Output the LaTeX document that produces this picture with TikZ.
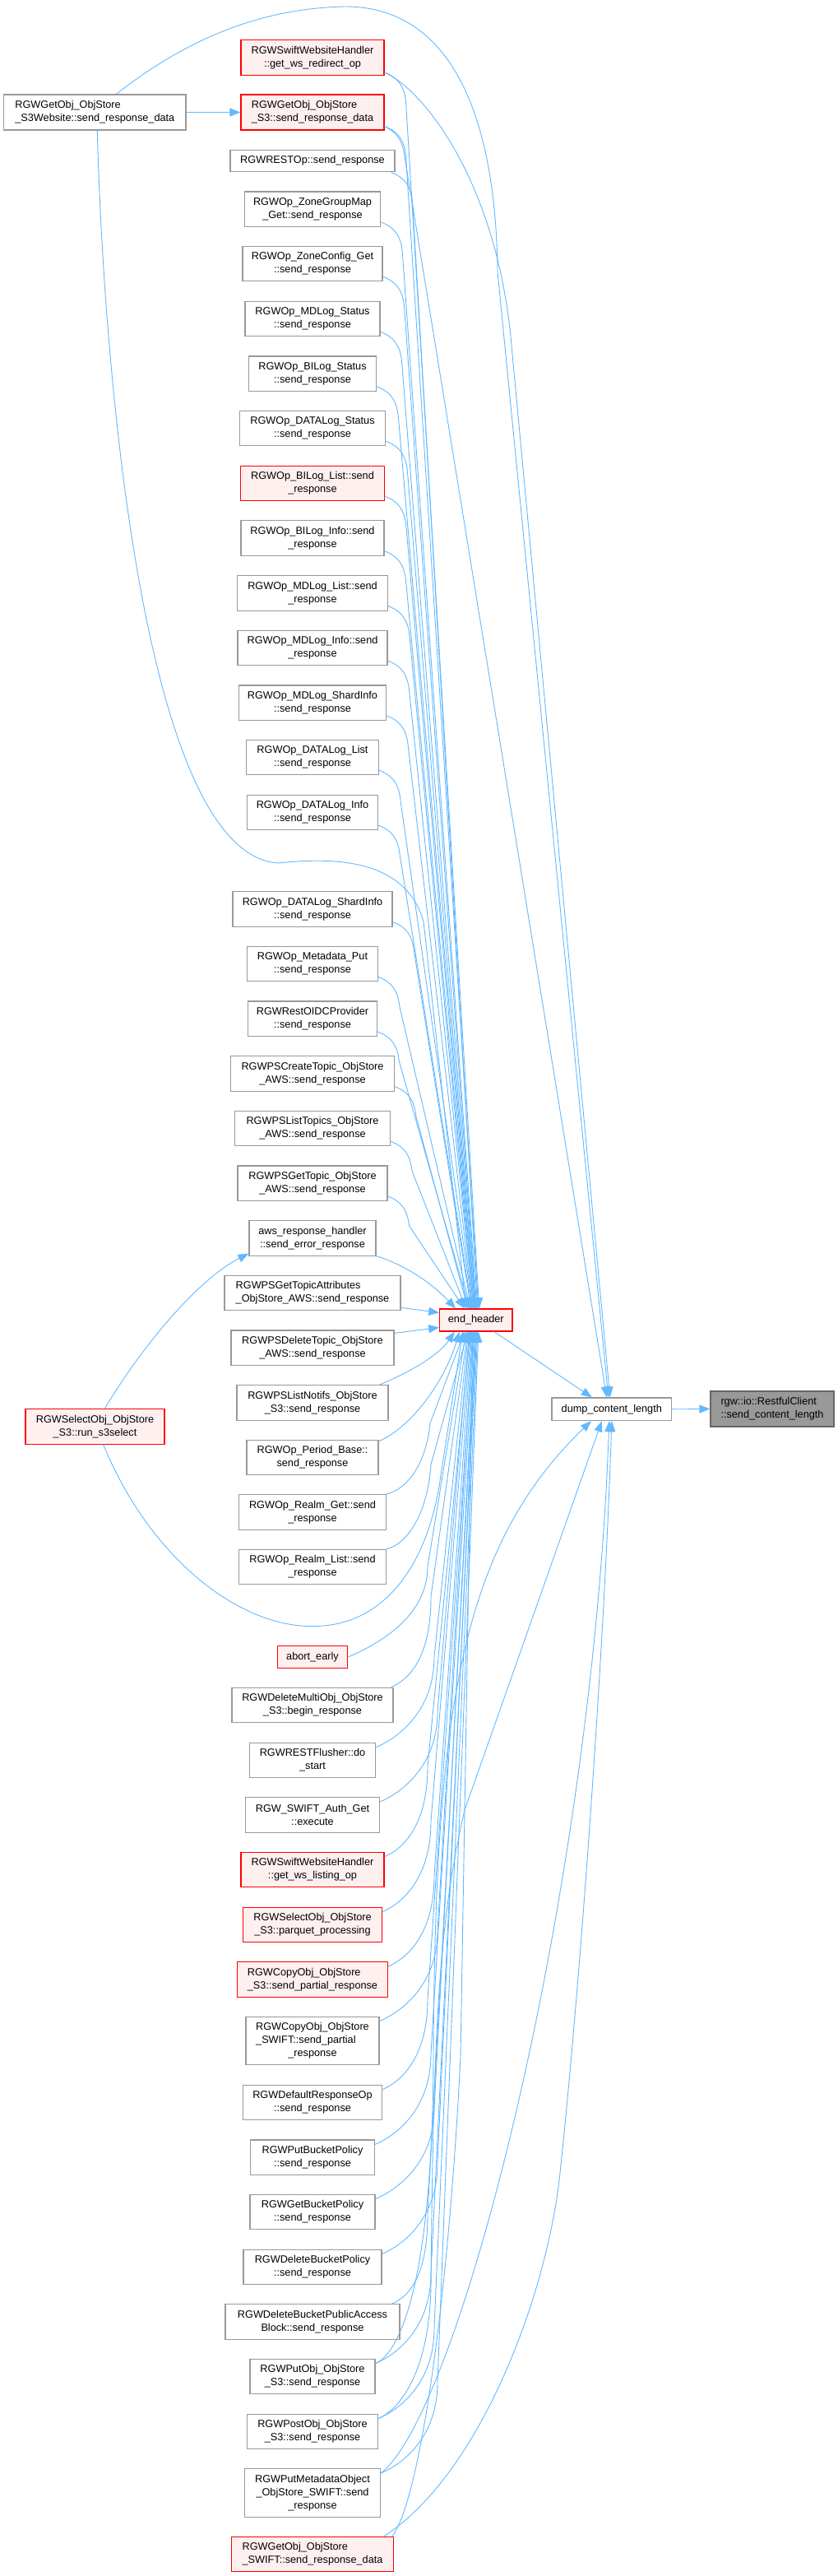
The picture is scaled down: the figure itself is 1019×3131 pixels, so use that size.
\documentclass[tikz,border=0pt]{standalone}
\usepackage{fontspec}
\setmainfont{Liberation Sans}
\usetikzlibrary{arrows.meta,calc}
\definecolor{eblue}{HTML}{63B8FF}
\definecolor{ngray}{HTML}{999999}
\definecolor{rfill}{HTML}{FFF0F0}
\definecolor{rbord}{HTML}{FF0000}
\definecolor{mgray}{HTML}{999999}
\definecolor{dgray}{HTML}{666666}
\newcommand\nfont{\fontsize{12.7pt}{16pt}\selectfont}
\newcommand\lft[2]{\setbox0\hbox{#1}\makebox[\wd0][l]{#2}}
\newcommand\eT[2]{%
  \path #1 coordinate (s);
  \draw[edge] (s) .. controls ($(s)+(16,6)$) and ($(s)+(24,16)$) .. ($(s)+(26,36)$) -- ([xshift=#2]endh.north);
}
\newcommand\eB[3]{%
  \path #1 coordinate (s) ++(0,-45) coordinate (s1) ++(0,-65) coordinate (s2);
  \draw[edge] (s) .. controls ($(s)+(28,-12)$) and (s1 -| #3) .. (s2 -| #3) -- ([xshift=#2]endh.south);
}
\tikzset{
  nb/.style={draw=ngray, fill=white, line width=1.1pt, inner sep=0pt, font=\nfont, align=center},
  nr/.style={nb, draw=rbord, fill=rfill},
  nroot/.style={nb, draw=dgray, fill=mgray},
  edge/.style={draw=eblue, line width=0.9pt, -{Triangle[length=13pt,width=10pt]}},
}
\begin{document}
\begin{tikzpicture}[x=1pt,y=-1pt]
\useasboundingbox (0,0) rectangle (1019,3131);
\coordinate (bxa) at (520,0);
\coordinate (bxb) at (524,0);
\coordinate (bxc) at (528,0);
\coordinate (bxd) at (532,0);
% nodes
\node[nb,align=left,minimum width=221.4pt,minimum height=43pt] (s3web) at (115.3,136.5) {RGWGetObj\_ObjStore\\\_S3Website::send\_response\_data};
\node[nr,minimum width=174pt,minimum height=42.5pt] (wsred) at (380,70.2) {RGWSwiftWebsiteHandler\\::get\_ws\_redirect\_op};
\node[nr,align=left,minimum width=174pt,minimum height=43pt] (s3srd) at (380,136.5) {RGWGetObj\_ObjStore\\\_S3::send\_response\_data};
\node[nb,minimum width=200pt,minimum height=26.5pt] (restop) at (380,195.7) {RGWRESTOp::send\_response};
\node[nb,minimum width=165.5pt,minimum height=42.5pt] (zgm) at (380,254.2) {RGWOp\_ZoneGroupMap\\\_Get::send\_response};
\node[nb,minimum width=170pt,minimum height=42.5pt] (zcg) at (380,320.5) {RGWOp\_ZoneConfig\_Get\\::send\_response};
\node[nb,minimum width=164pt,minimum height=42.5pt] (mdst) at (380,387.5) {RGWOp\_MDLog\_Status\\::send\_response};
\node[nb,minimum width=155.5pt,minimum height=42.5pt] (blst) at (380,454.2) {RGWOp\_BILog\_Status\\::send\_response};
\node[nb,minimum width=177.6pt,minimum height=42.5pt] (dlst) at (380,520.5) {RGWOp\_DATALog\_Status\\::send\_response};
\node[nr,minimum width=174.5pt,minimum height=42.5pt] (bllist) at (380,587.3) {RGWOp\_BILog\_List::send\\\_response};
\node[nb,minimum width=174pt,minimum height=42.5pt] (blinfo) at (380,654) {RGWOp\_BILog\_Info::send\\\_response};
\node[nb,minimum width=182.8pt,minimum height=42.5pt] (mdlist) at (380,720.8) {RGWOp\_MDLog\_List::send\\\_response};
\node[nb,minimum width=182pt,minimum height=42.5pt] (mdinfo) at (380,787.3) {RGWOp\_MDLog\_Info::send\\\_response};
\node[nb,minimum width=179.3pt,minimum height=42.5pt] (mdshard) at (380,854.2) {RGWOp\_MDLog\_ShardInfo\\::send\_response};
\node[nb,minimum width=160.7pt,minimum height=42.5pt] (dllist) at (380,920.5) {RGWOp\_DATALog\_List\\::send\_response};
\node[nb,minimum width=159.3pt,minimum height=42.5pt] (dlinfo) at (380,987.3) {RGWOp\_DATALog\_Info\\::send\_response};
\node[nb,minimum width=194pt,minimum height=42.5pt] (dlshard) at (380,1104.8) {RGWOp\_DATALog\_ShardInfo\\::send\_response};
\node[nb,minimum width=158.6pt,minimum height=42.5pt] (mdput) at (380,1171.5) {RGWOp\_Metadata\_Put\\::send\_response};
\node[nb,minimum width=157.6pt,minimum height=42.5pt] (oidc) at (380,1238.2) {RGWRestOIDCProvider\\::send\_response};
\node[nb,minimum width=198.6pt,minimum height=42.5pt] (pscreate) at (380,1304.8) {RGWPSCreateTopic\_ObjStore\\\_AWS::send\_response};
\node[nb,minimum width=188.9pt,minimum height=42.5pt] (pslist) at (380,1371.5) {RGWPSListTopics\_ObjStore\\\_AWS::send\_response};
\node[nb,minimum width=182pt,minimum height=42.5pt] (psget) at (380,1438.2) {RGWPSGetTopic\_ObjStore\\\_AWS::send\_response};
\node[nb,minimum width=154pt,minimum height=42.5pt] (aws) at (380,1504.8) {aws\_response\_handler\\::send\_error\_response};
\node[nb,align=left,minimum width=214pt,minimum height=42.5pt] (psattr) at (380,1571.5) {RGWPSGetTopicAttributes\\\_ObjStore\_AWS::send\_response};
\node[nb,minimum width=198pt,minimum height=42.5pt] (psdel) at (380,1638.2) {RGWPSDeleteTopic\_ObjStore\\\_AWS::send\_response};
\node[nb,minimum width=184pt,minimum height=42.5pt] (psnotif) at (380,1704.8) {RGWPSListNotifs\_ObjStore\\\_S3::send\_response};
\node[nr,minimum width=169pt,minimum height=42.5pt] (s3sel) at (115.5,1733.8) {RGWSelectObj\_ObjStore\\\_S3::run\_s3select};
\node[nb,minimum width=160pt,minimum height=42.5pt] (period) at (380,1771.5) {RGWOp\_Period\_Base::\\send\_response};
\node[nb,minimum width=179pt,minimum height=42.5pt] (realmget) at (380,1837.8) {RGWOp\_Realm\_Get::send\\\_response};
\node[nb,minimum width=179pt,minimum height=42.5pt] (realmlist) at (380,1904.5) {RGWOp\_Realm\_List::send\\\_response};
\node[nr,minimum width=85.5pt,minimum height=26.5pt] (abort) at (380,2014) {abort\_early};
\node[nb,minimum width=196pt,minimum height=42.5pt] (delmulti) at (380,2072.5) {RGWDeleteMultiObj\_ObjStore\\\_S3::begin\_response};
\node[nb,minimum width=153.4pt,minimum height=42.5pt] (flusher) at (380,2139.5) {RGWRESTFlusher::do\\\_start};
\node[nb,minimum width=163.2pt,minimum height=42.5pt] (swauth) at (380,2205.8) {RGW\_SWIFT\_Auth\_Get\\::execute};
\node[nr,minimum width=174pt,minimum height=42.5pt] (wslist) at (380,2272.5) {RGWSwiftWebsiteHandler\\::get\_ws\_listing\_op};
\node[nr,minimum width=168.6pt,minimum height=42.5pt] (parquet) at (380,2339.5) {RGWSelectObj\_ObjStore\\\_S3::parquet\_processing};
\node[nr,align=left,minimum width=182.8pt,minimum height=42.5pt] (copys3) at (380,2405.8) {RGWCopyObj\_ObjStore\\\_S3::send\_partial\_response};
\node[nb,minimum width=162pt,minimum height=58.8pt] (copysw) at (380,2480.5) {RGWCopyObj\_ObjStore\\\lft{RGWCopyObj\_ObjStore}{\_SWIFT::send\_partial}\\\_response};
\node[nb,minimum width=168.6pt,minimum height=42.5pt] (defresp) at (380,2555.5) {RGWDefaultResponseOp\\::send\_response};
\node[nb,minimum width=151.1pt,minimum height=42.5pt] (putbp) at (380,2622.2) {RGWPutBucketPolicy\\::send\_response};
\node[nb,minimum width=152pt,minimum height=42.5pt] (getbp) at (380,2688.5) {RGWGetBucketPolicy\\::send\_response};
\node[nb,minimum width=168pt,minimum height=42.5pt] (delbp) at (380,2755.3) {RGWDeleteBucketPolicy\\::send\_response};
\node[nb,minimum width=212pt,minimum height=42.5pt] (delpab) at (380,2821.9) {RGWDeleteBucketPublicAccess\\Block::send\_response};
\node[nb,minimum width=152pt,minimum height=42.5pt] (putobj) at (380,2888.5) {RGWPutObj\_ObjStore\\\_S3::send\_response};
\node[nb,minimum width=158.6pt,minimum height=42.5pt] (postobj) at (380,2955.5) {RGWPostObj\_ObjStore\\\_S3::send\_response};
\node[nb,minimum width=165.5pt,minimum height=58.8pt] (putmeta) at (380,3029.9) {RGWPutMetadataObject\\\_ObjStore\_SWIFT::send\\\_response};
\node[nr,align=left,minimum width=196.6pt,minimum height=42.5pt] (getsw) at (380,3104.5) {RGWGetObj\_ObjStore\\\_SWIFT::send\_response\_data};
\node[nr,minimum width=88.3pt,minimum height=27pt] (endh) at (578.8,1604.5) {end\_header};
\node[nb,minimum width=145.7pt,minimum height=27.7pt] (dump) at (743.8,1712.8) {dump\_content\_length};
\node[nroot,align=left,minimum width=150pt,minimum height=43pt] (root) at (939,1712.5) {rgw::io::RestfulClient\\::send\_content\_length};
% simple edges
\draw[edge] (s3web.east) -- (s3srd.west);
\draw[edge] ([xshift=22pt]endh.south) -- ([xshift=-24pt]dump.north);
\draw[edge] (dump.east) -- (root.west);
% edges to dump from above
\draw[edge] ([xshift=26pt]s3web.north) .. controls (230,45) and (320,10) .. (420,8) .. controls (548,8) and (603,140) .. (605,330) -- ([xshift=-4pt]dump.north);
\draw[edge] ([yshift=4pt]wsred.south east) .. controls (520,112) and (606,230) .. (622,420) -- ([xshift=-2pt]dump.north);
\draw[edge] ([yshift=5pt]s3srd.south east) .. controls (482,160) and (490,172) .. (492,190) -- ([xshift=-6pt]dump.north);
% S3Website to end_header
\draw[edge] ([xshift=3pt]s3web.south) .. controls (125,420) and (170,1040) .. (339,1049) .. controls (420,1040) and (495,1050) .. (515,1120) -- ([xshift=-12pt]endh.north);
% run_s3select
\draw[edge] ([xshift=12pt]s3sel.north) .. controls (170,1640) and (240,1555) .. ([yshift=3pt]aws.south west);
\draw[edge] ([xshift=10pt]s3sel.south) .. controls (185,1900) and (300,1985) .. (393,1976) .. controls (470,1970) and (520,1900) .. (535,1800) -- ([xshift=-16pt]endh.south);
% top group to end_header
\eT{([yshift=4pt]wsred.south east)}{4pt}
\eT{([yshift=5pt]s3srd.south east)}{3pt}
\eT{([xshift=-5pt]restop.south east)}{2pt}
\eT{([yshift=6pt]zgm.south east)}{1pt}
\eT{([yshift=6pt]zcg.south east)}{0pt}
\eT{([yshift=6pt]mdst.south east)}{0pt}
\eT{([yshift=6pt]blst.south east)}{-1pt}
\eT{([yshift=6pt]dlst.south east)}{-1pt}
\eT{([yshift=6pt]bllist.south east)}{-2pt}
\eT{([yshift=6pt]blinfo.south east)}{-2pt}
\eT{([yshift=6pt]mdlist.south east)}{-3pt}
\eT{([yshift=6pt]mdinfo.south east)}{-3pt}
\eT{([yshift=6pt]mdshard.south east)}{-4pt}
\eT{([yshift=6pt]dllist.south east)}{-4pt}
\eT{([yshift=6pt]dlinfo.south east)}{-5pt}
\eT{([yshift=6pt]dlshard.south east)}{-6pt}
\eT{([yshift=6pt]mdput.south east)}{-7pt}
\eT{([yshift=6pt]oidc.south east)}{-8pt}
\eT{([yshift=6pt]pscreate.south east)}{-10pt}
\eT{([yshift=6pt]pslist.south east)}{-12pt}
\eT{([yshift=6pt]psget.south east)}{-14pt}
% near nodes
\draw[edge] (aws.south east) .. controls (500,1540) and (530,1565) .. ([xshift=20pt]endh.north west);
\draw[edge] ([yshift=4pt]psattr.south east) -- ([yshift=9pt]endh.west);
\draw[edge] ([yshift=-4pt]psdel.north east) -- ([yshift=-9pt]endh.west);
\draw[edge] ([xshift=-11pt]psnotif.north east) .. controls (505,1665) and (535,1645) .. ([xshift=-26pt]endh.south);
\draw[edge] ([yshift=-2pt]period.north east) .. controls (500,1735) and (540,1680) .. ([xshift=-20pt]endh.south);
\draw[edge] (realmget.north east) .. controls (495,1810) and (518,1780) .. (523,1730) -- ([xshift=-14pt]endh.south);
\draw[edge] (realmlist.north east) .. controls (495,1877) and (520,1840) .. (524,1780) -- ([xshift=-10pt]endh.south);
% bottom group to end_header
\eB{(abort.east)}{-12pt}{bxa}
\eB{([xshift=-3pt]delmulti.north east)}{-10pt}{bxb}
\eB{([yshift=-6pt]flusher.north east)}{-9pt}{bxc}
\eB{([yshift=-6pt]swauth.north east)}{-8pt}{bxd}
\eB{([yshift=-6pt]wslist.north east)}{-7pt}{bxa}
\eB{([yshift=-6pt]parquet.north east)}{-6pt}{bxb}
\eB{([yshift=-6pt]copys3.north east)}{-5pt}{bxc}
\eB{([yshift=-6pt]copysw.north east)}{-4pt}{bxd}
\eB{([yshift=-6pt]defresp.north east)}{-3pt}{bxa}
\eB{([yshift=-6pt]putbp.north east)}{-2pt}{bxb}
\eB{([yshift=-6pt]getbp.north east)}{-1pt}{bxc}
\eB{([yshift=-6pt]delbp.north east)}{0pt}{bxd}
\eB{([xshift=-10pt]delpab.north east)}{0pt}{bxa}
\eB{([yshift=-6pt]putobj.north east)}{1pt}{bxb}
\eB{([yshift=-6pt]postobj.north east)}{2pt}{bxc}
\eB{([yshift=-6pt]putmeta.north east)}{3pt}{bxd}
\draw[edge] ([xshift=-2pt]getsw.north east) .. controls (510,3040) and (545,2800) .. (560,2500) -- ([xshift=-4pt]endh.south);
% bottom group to dump
\draw[edge] ([yshift=-6pt]putobj.north east) .. controls +(28,-12) and (526,2780) .. (527,2500) .. controls (529,2080) and (560,1880) .. ([xshift=-25pt]dump.south);
\draw[edge] ([yshift=-6pt]postobj.north east) .. controls +(28,-12) and (522,2880) .. (524,2780) .. controls (527,2450) and (535,2330) .. (565,2200) -- ([xshift=-12pt]dump.south);
\draw[edge] ([yshift=-6pt]putmeta.north east) .. controls (560,2930) and (720,2300) .. ([xshift=-3pt]dump.south);
\draw[edge] ([xshift=-12pt]getsw.north east) .. controls (580,3010) and (662,2800) .. (680,2650) .. controls (705,2420) and (735,2000) .. (dump.south);
\end{tikzpicture}
\end{document}
